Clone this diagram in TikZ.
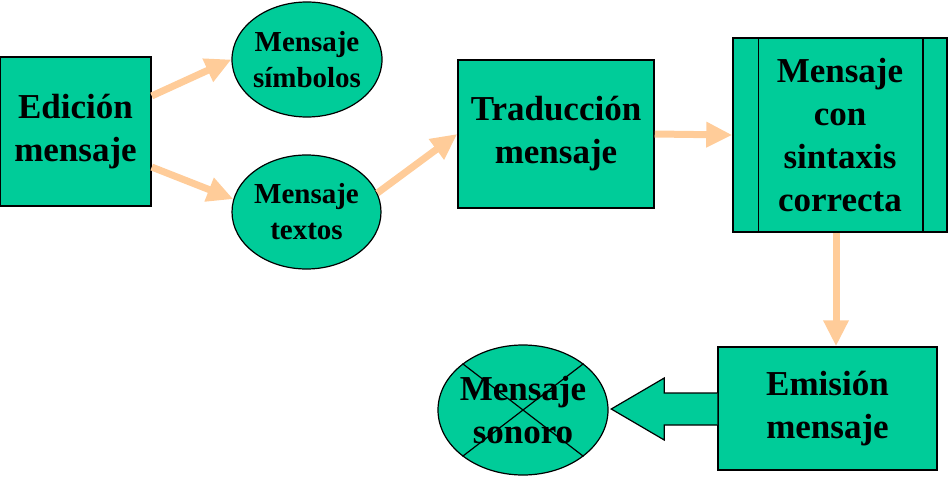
\documentclass[tikz,border=0pt]{standalone}
\usepackage{fontspec}
\setmainfont{Liberation Serif}
\usetikzlibrary{shapes.geometric,arrows.meta}
\definecolor{verde}{HTML}{00CC99}
\definecolor{melocoton}{HTML}{FFCC99}

\begin{document}
\begin{tikzpicture}[x=1pt,y=-1pt,
cajanode/.style={rectangle, draw=black, fill=verde, line width=1.5pt, inner sep=0pt, align=center, font=\fontsize{35}{43}\selectfont\bfseries},
ovalnode/.style={ellipse, draw=black, fill=verde, line width=1.2pt, inner ysep=0pt, inner xsep=-5pt, align=center, font=\fontsize{29}{36}\selectfont\bfseries},
flecha/.style={draw=melocoton, fill=melocoton, line width=7pt, -{Triangle[length=26pt,width=24pt]}}
]
    \useasboundingbox (0,0) rectangle (949,476);

    \node [cajanode, minimum width=151pt, minimum height=149pt] (edicion) at (75.5,131.5) {Edición\\mensaje};

    \node [ovalnode, minimum width=150pt, minimum height=115pt] (simbolos) at (307,59.5) {Mensaje\\símbolos};
    \node [ovalnode, minimum width=149pt, minimum height=114pt] (textos) at (306.5,212) {Mensaje\\textos};

    \node [cajanode, minimum width=196pt, minimum height=148pt] (traduccion) at (556,134) {Traducción\\mensaje};
    \node [cajanode, minimum width=214pt, minimum height=194pt] (sintaxis) at (840,135) {Mensaje\\con\\sintaxis\\correcta};
    \draw [line width=1.5pt] ([xshift=26pt]sintaxis.north west) -- ([xshift=26pt]sintaxis.south west);
    \draw [line width=1.5pt] ([xshift=-25pt]sintaxis.north east) -- ([xshift=-25pt]sintaxis.south east);

    \node [cajanode, minimum width=219pt, minimum height=123pt] (emision) at (827.5,408.5) {Emisión\\mensaje};
    \node [ovalnode, inner xsep=-20pt, font=\fontsize{35}{43}\selectfont\bfseries, minimum width=170pt, minimum height=130pt] (sonoro) at (523,410) {Mensaje\\sonoro};
    \draw [line width=1.2pt] (sonoro.north west) -- (sonoro.south east);
    \draw [line width=1.2pt] (sonoro.north east) -- (sonoro.south west);

    \draw [flecha] (edicion.25) -- (simbolos.west);
    \draw [flecha] (edicion.-25) -- (textos.170);
    \draw [flecha] (textos.15) -- (traduccion.west);
    \draw [flecha] (traduccion.east) -- (sintaxis.west);
    \draw [flecha] ([xshift=-4pt]sintaxis.south) -- ([xshift=-4pt]sintaxis.south |- emision.north);

    \draw [line width=1.2pt, fill=verde] (emision.west) ++(0,-15.5) -- ++(-53,0) -- ++(0,-15) -- ++(-53,31) -- ++(53,31) -- ++(0,-15) -- ++(53,0);
\end{tikzpicture}
\end{document}
